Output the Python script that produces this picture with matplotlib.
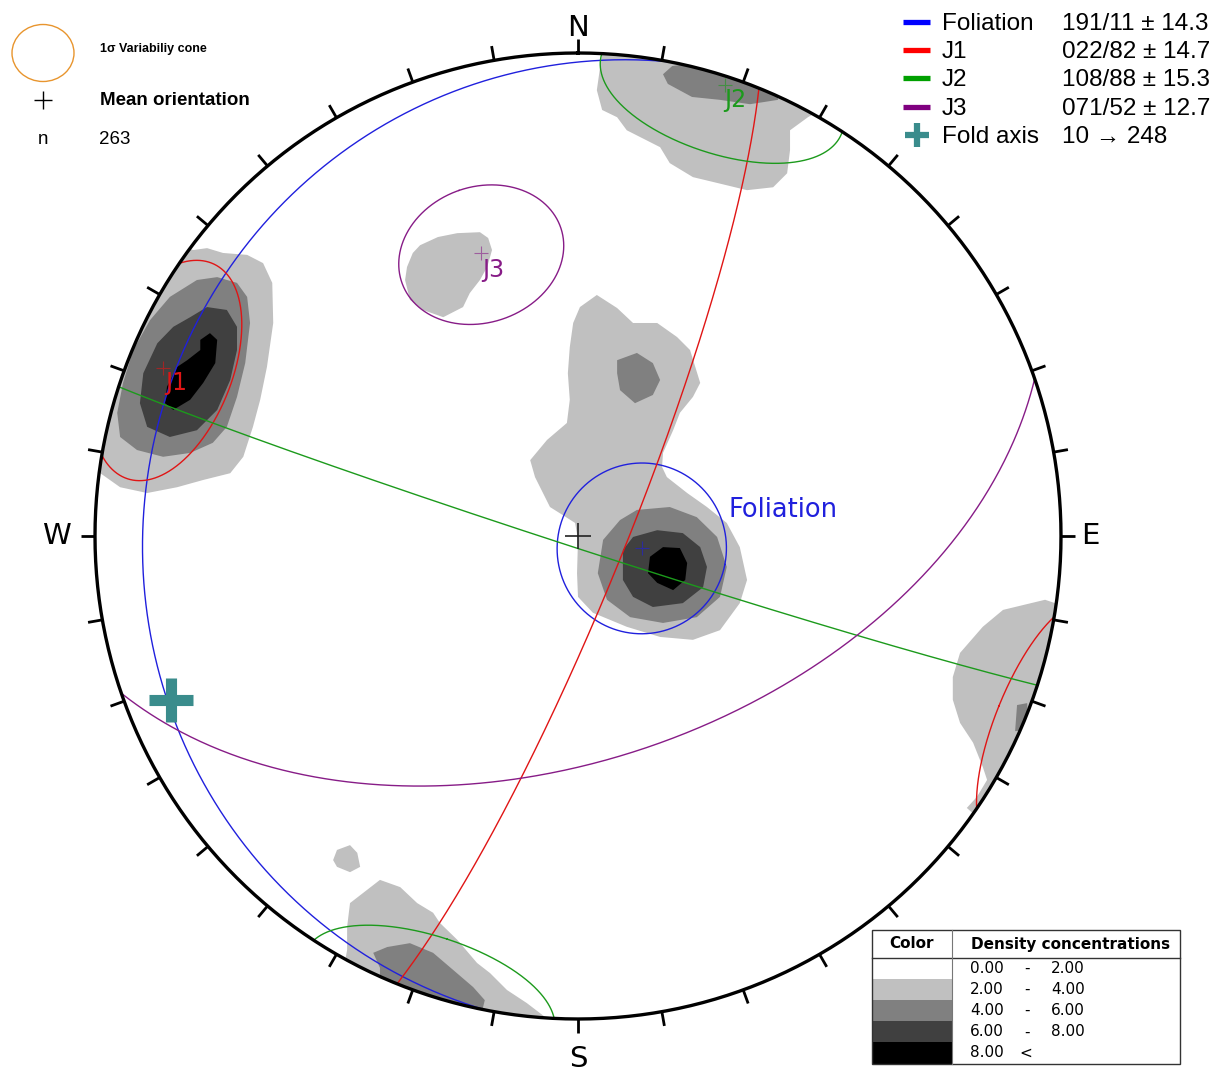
import numpy as np
import matplotlib
matplotlib.use('Agg')
import matplotlib.pyplot as plt
from matplotlib.patches import Circle, Polygon, Ellipse, Rectangle

# mean planes (strike / dip, right-hand rule) and 1-sigma cones
set_names = ['Foliation', 'J1', 'J2', 'J3']
strikes = [191, 22, 108, 71]
dips = [11, 82, 88, 52]
cone_sd = [14.3, 14.7, 15.3, 12.7]
line_colors = ['#2020dd', '#e01515', '#1c9a1c', '#871c87']
bar_colors = ['#0000ff', '#ff0000', '#00a000', '#800080']
value_text = ['191/11 \u00b1 14.3', '022/82 \u00b1 14.7', '108/88 \u00b1 15.3', '071/52 \u00b1 12.7']

fold_trend, fold_plunge = 248, 10
n_poles = 263

density_levels = ['0.00', '2.00', '4.00', '6.00', '8.00']
density_colors = ['#ffffff', '#c0c0c0', '#808080', '#404040', '#000000']

light_patches = [
    [(0.02, 1.03), (0.05, 1.00), (0.039, 0.923), (0.050, 0.882), (0.081, 0.867), (0.101, 0.840),
     (0.170, 0.805), (0.190, 0.772), (0.238, 0.743), (0.288, 0.731), (0.350, 0.716), (0.404, 0.722),
     (0.433, 0.751), (0.439, 0.799), (0.439, 0.840), (0.476, 0.867), (0.495, 0.878), (0.542, 0.903),
     (0.253, 1.047)],
    [(-0.327, 0.602), (-0.290, 0.619), (-0.250, 0.627), (-0.203, 0.629), (-0.186, 0.617), (-0.178, 0.592),
     (-0.188, 0.557), (-0.203, 0.530), (-0.224, 0.503), (-0.238, 0.474), (-0.279, 0.453), (-0.321, 0.468),
     (-0.348, 0.489), (-0.358, 0.530), (-0.354, 0.557), (-0.342, 0.586)],
    [(0.039, 0.499), (0.081, 0.472), (0.114, 0.441), (0.164, 0.441), (0.205, 0.412), (0.232, 0.385),
     (0.253, 0.317), (0.238, 0.288), (0.211, 0.255), (0.197, 0.219), (0.176, 0.172), (0.174, 0.143),
     (0.184, 0.122), (0.226, 0.089), (0.267, 0.060), (0.308, 0.027), (0.335, -0.023), (0.350, -0.091),
     (0.335, -0.139), (0.294, -0.195), (0.238, -0.215), (0.170, -0.209), (0.101, -0.188), (0.031, -0.159),
     (0.000, -0.126), (-0.002, -0.077), (0.000, -0.008), (-0.006, 0.027), (-0.031, 0.043), (-0.058, 0.060),
     (-0.089, 0.122), (-0.099, 0.157), (-0.064, 0.199), (-0.023, 0.234), (-0.017, 0.282), (-0.021, 0.337),
     (-0.017, 0.391), (-0.010, 0.441), (0.004, 0.474)],
    [(-0.886, 0.633), (-0.797, 0.592), (-0.768, 0.596), (-0.735, 0.586), (-0.685, 0.582), (-0.652, 0.565),
     (-0.633, 0.524), (-0.631, 0.441), (-0.644, 0.350), (-0.658, 0.282), (-0.673, 0.226), (-0.693, 0.164),
     (-0.720, 0.130), (-0.776, 0.116), (-0.830, 0.101), (-0.892, 0.089), (-0.948, 0.101), (-0.989, 0.130),
     (-1.031, 0.157)],
    [(0.880, -0.153), (0.967, -0.132), (1.029, -0.153), (0.998, -0.381), (0.894, -0.546), (0.822, -0.578),
     (0.805, -0.563), (0.826, -0.540), (0.847, -0.505), (0.838, -0.478), (0.818, -0.428), (0.791, -0.387),
     (0.776, -0.339), (0.776, -0.292), (0.791, -0.242), (0.838, -0.188)],
    [(-0.499, -0.650), (-0.472, -0.640), (-0.457, -0.656), (-0.451, -0.685), (-0.472, -0.696),
     (-0.499, -0.685), (-0.507, -0.671)],
    [(-0.472, -0.760), (-0.410, -0.712), (-0.368, -0.727), (-0.333, -0.760), (-0.300, -0.780),
     (-0.286, -0.801), (-0.250, -0.836), (-0.209, -0.884), (-0.182, -0.905), (-0.147, -0.940),
     (-0.106, -0.967), (-0.068, -0.996), (-0.068, -1.043), (-0.493, -0.940), (-0.478, -0.857),
     (-0.478, -0.809)],
]
mid_patches = [
    [(0.176, 0.956), (0.195, 0.973), (0.253, 0.981), (0.335, 0.965), (0.414, 0.927), (0.414, 0.903),
     (0.356, 0.894), (0.294, 0.903), (0.236, 0.909), (0.186, 0.936)],
    [(0.081, 0.364), (0.122, 0.379), (0.155, 0.358), (0.170, 0.323), (0.155, 0.292), (0.118, 0.275),
     (0.087, 0.302), (0.081, 0.337)],
    [(0.052, -0.008), (0.087, 0.033), (0.122, 0.054), (0.190, 0.060), (0.246, 0.039), (0.288, -0.002),
     (0.308, -0.064), (0.294, -0.126), (0.246, -0.168), (0.176, -0.180), (0.108, -0.168), (0.060, -0.132),
     (0.041, -0.077)],
    [(-0.789, 0.530), (-0.747, 0.536), (-0.706, 0.524), (-0.685, 0.495), (-0.679, 0.441), (-0.689, 0.358),
     (-0.706, 0.288), (-0.727, 0.226), (-0.756, 0.193), (-0.803, 0.172), (-0.859, 0.164), (-0.913, 0.178),
     (-0.948, 0.205), (-0.954, 0.255), (-0.942, 0.317), (-0.921, 0.385), (-0.886, 0.447), (-0.845, 0.495)],
    [(0.909, -0.350), (0.930, -0.346), (0.932, -0.402), (0.905, -0.404)],
    [(-0.424, -0.863), (-0.395, -0.851), (-0.348, -0.843), (-0.300, -0.863), (-0.259, -0.898),
     (-0.217, -0.934), (-0.193, -0.961), (-0.203, -1.002), (-0.410, -0.961), (-0.410, -0.894)],
]
dark_patches = [
    [(0.093, -0.029), (0.114, -0.002), (0.164, 0.012), (0.217, 0.006), (0.253, -0.023), (0.267, -0.064),
     (0.259, -0.106), (0.217, -0.139), (0.155, -0.147), (0.114, -0.126), (0.093, -0.091)],
    [(-0.803, 0.453), (-0.768, 0.474), (-0.727, 0.468), (-0.706, 0.433), (-0.706, 0.385), (-0.720, 0.323),
     (-0.747, 0.261), (-0.789, 0.219), (-0.845, 0.205), (-0.892, 0.226), (-0.907, 0.275), (-0.900, 0.337),
     (-0.871, 0.399), (-0.838, 0.433)],
]
peak_patches = [
    [(0.149, -0.043), (0.176, -0.023), (0.211, -0.025), (0.226, -0.056), (0.222, -0.091), (0.197, -0.112),
     (0.164, -0.097), (0.145, -0.077)],
    [(-0.830, 0.350), (-0.809, 0.364), (-0.782, 0.385), (-0.782, 0.406), (-0.762, 0.420), (-0.747, 0.406),
     (-0.751, 0.358), (-0.776, 0.317), (-0.803, 0.282), (-0.838, 0.261), (-0.855, 0.275), (-0.851, 0.309)],
]


def line_vec(trend, plunge):
    t, p = np.radians(trend), np.radians(plunge)
    return np.array([np.cos(p) * np.sin(t), np.cos(p) * np.cos(t), -np.sin(p)])


def project(v):
    # Schmidt (equal-area) net, lower hemisphere, unit radius
    v = np.atleast_2d(v)
    d = np.sqrt(1 - v[:, 2])
    return v[:, 0] / d, v[:, 1] / d


def great_circle(strike, dip, n=400):
    st, dp = np.radians(strike), np.radians(dip)
    dd = st + np.pi / 2
    s = np.array([np.sin(st), np.cos(st), 0.0])
    d = np.array([np.cos(dp) * np.sin(dd), np.cos(dp) * np.cos(dd), -np.sin(dp)])
    th = np.linspace(0, np.pi, n)[:, None]
    return project(np.cos(th) * s + np.sin(th) * d)


def small_circle(trend, plunge, radius, n=3000):
    a = line_vec(trend, plunge)
    u = line_vec(trend, plunge - 90)
    w = np.cross(a, u)
    ph = np.linspace(0, 2 * np.pi, n)[:, None]
    r = np.radians(radius)
    v = np.cos(r) * a + np.sin(r) * (np.cos(ph) * u + np.sin(ph) * w)
    up = v[:, 2] > 0
    v[up] *= -1
    x, y = project(v)
    brk = np.where(np.diff(up.astype(int)) != 0)[0] + 1
    x = np.insert(x, brk, np.nan)
    y = np.insert(y, brk, np.nan)
    return x, y


W, H = 1224, 1073
CX, CY, R = 578, 536, 483
fig = plt.figure(figsize=(W / 100, H / 100), dpi=100)
ax = fig.add_axes([0, 0, 1, 1])
ax.set_xlim(-CX / R, (W - CX) / R)
ax.set_ylim((CY - H) / R, CY / R)
ax.axis('off')


def fx(x):
    return x / W


def fy(y):
    return 1 - y / H


# density shading
for patches, col in zip([light_patches, mid_patches, dark_patches, peak_patches], density_colors[1:]):
    for pts in patches:
        pg = Polygon(np.array(pts), closed=True, facecolor=col, edgecolor='none', zorder=1)
        ax.add_patch(pg)
        pg.set_clip_path(Circle((0, 0), 1, transform=ax.transData))

# planes, cones, mean poles
label_offsets = [(62, 28), (2, -11), (0, -11), (1, -12)]
for name, st, dp, sd, col, off in zip(set_names, strikes, dips, cone_sd, line_colors, label_offsets):
    gx, gy = great_circle(st, dp)
    ax.plot(gx, gy, color=col, lw=1.0, zorder=2)
    pt, pp = (st - 90) % 360, 90 - dp
    cx_, cy_ = small_circle(pt, pp, sd)
    ax.plot(cx_, cy_, color=col, lw=1.0, zorder=2)
    px_, py_ = project(line_vec(pt, pp))
    ax.plot(px_, py_, marker='+', color=col, ms=10, mew=0.8, alpha=0.6, zorder=4)
    fs = 18.5 if name == 'Foliation' else 17
    ax.annotate(name, (px_[0], py_[0]), xytext=off, textcoords='offset points',
                ha='left', va='center', color=col, fontsize=fs, zorder=5)

# fold axis
fxp, fyp = project(line_vec(fold_trend, fold_plunge))
ax.plot(fxp, fyp, marker='+', color='#3a8c8c', ms=32, mew=8, zorder=4)

# net centre
ax.plot(0, 0, marker='+', color='#222222', ms=19, mew=1.2, zorder=4)

# primitive circle and ticks
tt = np.linspace(0, 2 * np.pi, 721)
ax.plot(np.sin(tt), np.cos(tt), color='black', lw=2.4, zorder=3)
for az in range(0, 360, 10):
    a = np.radians(az)
    ax.plot([np.sin(a), 1.03 * np.sin(a)], [np.cos(a), 1.03 * np.cos(a)],
            color='black', lw=2.0, solid_capstyle='butt', zorder=3)
for lab, x, y in [('N', 0, 1.052), ('S', 0, -1.082), ('W', -1.079, 0), ('E', 1.060, 0)]:
    ax.text(x, y, lab, ha='center', va='center', fontsize=21, color='black')

# legend, top left
fig.patches.append(Ellipse((fx(43), fy(53)), 62 / W, 57 / H, transform=fig.transFigure,
                           facecolor='none', edgecolor='#e8952e', lw=1.0))
fig.text(fx(100), fy(49), '1\u03c3 Variabiliy cone', ha='left', va='center', fontsize=9,
         fontweight='bold', family=['Liberation Sans', 'DejaVu Sans'])
fig.lines.append(plt.Line2D([fx(43)], [fy(100)], marker='+', color='black', ms=13, mew=1.0,
                            transform=fig.transFigure))
fig.text(fx(100), fy(101), 'Mean orientation', ha='left', va='center', fontsize=13.5,
         fontweight='bold', family=['Liberation Sans', 'DejaVu Sans'])
fig.text(fx(43), fy(139), 'n', ha='center', va='center', fontsize=13.5,
         family=['Liberation Sans', 'DejaVu Sans'])
fig.text(fx(99), fy(139), str(n_poles), ha='left', va='center', fontsize=13.5,
         family=['Liberation Sans', 'DejaVu Sans'])

# legend, top right
row_y = [24, 52, 80, 109, 137]
for i, (name, col, val) in enumerate(zip(set_names, bar_colors, value_text)):
    y = row_y[i]
    fig.lines.append(plt.Line2D([fx(903), fx(930)], [fy(y - 2), fy(y - 2)], color=col, lw=3.8,
                                transform=fig.transFigure, solid_capstyle='butt'))
    fig.text(fx(942), fy(y), name, ha='left', va='center', fontsize=17.5,
             family=['Liberation Sans', 'DejaVu Sans'])
    fig.text(fx(1062), fy(y), val, ha='left', va='center', fontsize=17.5,
             family=['Liberation Sans', 'DejaVu Sans'])
fig.lines.append(plt.Line2D([fx(917)], [fy(row_y[4] - 2)], marker='+', color='#3a8c8c', ms=17, mew=4.5,
                            transform=fig.transFigure))
fig.text(fx(942), fy(row_y[4]), 'Fold axis', ha='left', va='center', fontsize=17.5,
         family=['Liberation Sans', 'DejaVu Sans'])
fig.text(fx(1062), fy(row_y[4]), f'{fold_plunge} \u2192 {fold_trend}', ha='left', va='center',
         fontsize=17.5, family=['Liberation Sans', 'DejaVu Sans'])

# density table, bottom right
tx0, tx1, tcol = 872, 1180, 952
ty0, thead, trow = 930, 958, 21.1
for i, col in enumerate(density_colors):
    y0 = thead + i * trow
    fig.patches.append(Rectangle((fx(tx0), fy(y0 + trow)), (tcol - tx0) / W, trow / H,
                                 transform=fig.transFigure, facecolor=col, edgecolor='none'))
    yc = y0 + trow / 2
    fig.text(fx(970), fy(yc), density_levels[i], ha='left', va='center', fontsize=11,
             family='DejaVu Sans')
    if i < len(density_levels) - 1:
        fig.text(fx(1027), fy(yc), '-', ha='center', va='center', fontsize=11, family='DejaVu Sans')
        fig.text(fx(1051), fy(yc), density_levels[i + 1], ha='left', va='center', fontsize=11,
                 family='DejaVu Sans')
    else:
        fig.text(fx(1026), fy(yc), '<', ha='center', va='center', fontsize=11, family='DejaVu Sans')
tb = thead + 5 * trow
fig.patches.append(Rectangle((fx(tx0), fy(tb)), (tx1 - tx0) / W, (tb - ty0) / H,
                             transform=fig.transFigure, facecolor='none', edgecolor='#333333', lw=1.0))
fig.lines.append(plt.Line2D([fx(tx0), fx(tx1)], [fy(thead), fy(thead)], color='#333333', lw=1.0,
                            transform=fig.transFigure))
fig.lines.append(plt.Line2D([fx(tcol), fx(tcol)], [fy(ty0), fy(tb)], color='#777777', lw=0.8,
                            transform=fig.transFigure))
fig.text(fx(912), fy(944), 'Color', ha='center', va='center', fontsize=11, fontweight='bold',
         family='DejaVu Sans')
fig.text(fx(1071), fy(944), 'Density concentrations', ha='center', va='center', fontsize=11,
         fontweight='bold', family='DejaVu Sans')

fig.savefig('out.png', dpi=100, facecolor='white')
